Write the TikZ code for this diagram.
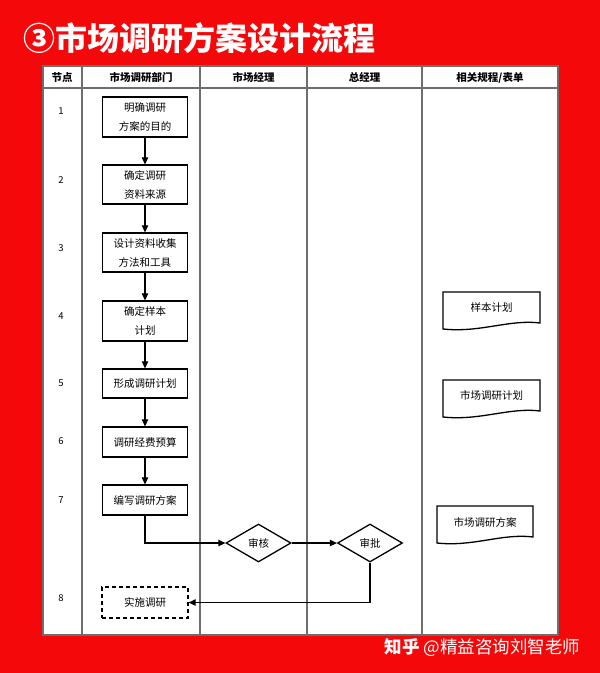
\documentclass[tikz,border=0pt]{standalone}
\usepackage{fontspec}
\newfontfamily\cjk{Noto Sans CJK SC}
\usetikzlibrary{arrows.meta,shapes.geometric}
\definecolor{bgred}{RGB}{245,8,10}
\definecolor{gridgray}{RGB}{110,110,110}
\tikzset{
  proc/.style={draw, line width=1.3pt, minimum width=85pt, inner sep=0pt, align=center,
    font=\cjk\fontsize{10.5}{19}\selectfont},
  dec/.style={draw, diamond, line width=1.3pt, minimum width=65pt, minimum height=38pt,
    inner sep=0pt, font=\cjk\fontsize{10.5}{12}\selectfont},
  arr/.style={line width=1.2pt, -{Triangle[length=7pt,width=6.5pt]}},
  hdr/.style={font=\cjk\bfseries\fontsize{10.5}{12}\selectfont},
  num/.style={font=\cjk\fontsize{9.5}{10}\selectfont},
  doctext/.style={font=\cjk\fontsize{10.5}{12}\selectfont},
  docshape/.style={line width=1.3pt},
  grid/.style={gridgray, line width=1.1pt}
}
\begin{document}
\begin{tikzpicture}[x=1pt,y=-1pt]
\useasboundingbox (0,0) rectangle (600,673);
\fill[bgred] (0,0) rectangle (600,673);
% title
\node[anchor=west, text=white, font=\cjk\bfseries\fontsize{32}{32}\selectfont] (title) at (20,38) {③市场调研方案设计流程};
% table
\fill[white] (43,66) rectangle (558,635);
\draw[grid] (43,66) rectangle (558,635);
\draw[grid] (43,88) -- (558,88);
\foreach \x in {82,200,307,422} \draw[grid] (\x,66) -- (\x,635);
% headers
\node[hdr] (h1) at (62,77.5) {节点};
\node[hdr] (h2) at (141,77.5) {市场调研部门};
\node[hdr] (h3) at (253.5,77.5) {市场经理};
\node[hdr] (h4) at (364.5,77.5) {总经理};
\node[hdr] (h5) at (490,77.5) {相关规程/表单};
% row numbers
\node[num] (n1) at (61,111) {1};
\node[num] (n2) at (61,180) {2};
\node[num] (n3) at (61,248) {3};
\node[num] (n4) at (61,316) {4};
\node[num] (n5) at (61,383) {5};
\node[num] (n6) at (61,441) {6};
\node[num] (n7) at (61,500) {7};
\node[num] (n8) at (61,598) {8};
% process boxes
\node[proc, minimum height=40pt] (b1) at (145,117) {明确调研\\方案的目的};
\node[proc, minimum height=39pt] (b2) at (145,184.5) {确定调研\\资料来源};
\node[proc, minimum height=39pt] (b3) at (145,252.5) {设计资料收集\\方法和工具};
\node[proc, minimum height=40pt] (b4) at (145,321) {确定样本\\计划};
\node[proc, minimum height=29pt] (b5) at (145,383.5) {形成调研计划};
\node[proc, minimum height=30pt] (b6) at (145,442) {调研经费预算};
\node[proc, minimum height=30pt] (b7) at (145,500) {编写调研方案};
\node[proc, dashed, dash pattern=on 4pt off 3pt, minimum height=31pt, minimum width=86pt] (b8) at (145,602.5) {实施调研};
% decisions
\node[dec] (d1) at (258.5,543) {审核};
\node[dec] (d2) at (370,543) {审批};
% connectors
\draw[arr] (b1) -- (b2);
\draw[arr] (b2) -- (b3);
\draw[arr] (b3) -- (b4);
\draw[arr] (b4) -- (b5);
\draw[arr] (b5) -- (b6);
\draw[arr] (b6) -- (b7);
\draw[arr] (b7.south) |- (d1.west);
\draw[arr] (d1.east) -- (d2.west);
\draw[arr] (d2.south) |- (b8.east);
% documents
\draw[docshape] (443,292) -- (540,292) -- (540,323)
  .. controls (510,319) and (480,333) .. (443,329) -- cycle;
\node[doctext] (f1) at (491.5,307.5) {样本计划};
\draw[docshape] (443,380) -- (540,380) -- (540,411)
  .. controls (510,407) and (480,421) .. (443,417) -- cycle;
\node[doctext] (f2) at (491.5,395.5) {市场调研计划};
\draw[docshape] (437,506) -- (533,506) -- (533,537)
  .. controls (503,533) and (473,547) .. (437,543) -- cycle;
\node[doctext] (f3) at (485,522) {市场调研方案};
% watermark
\node[anchor=east, text=white, font=\cjk\fontsize{17.5}{18}\selectfont] (wm) at (584,648) {{\bfseries 知乎} @精益咨询刘智老师};
\end{tikzpicture}
\end{document}
